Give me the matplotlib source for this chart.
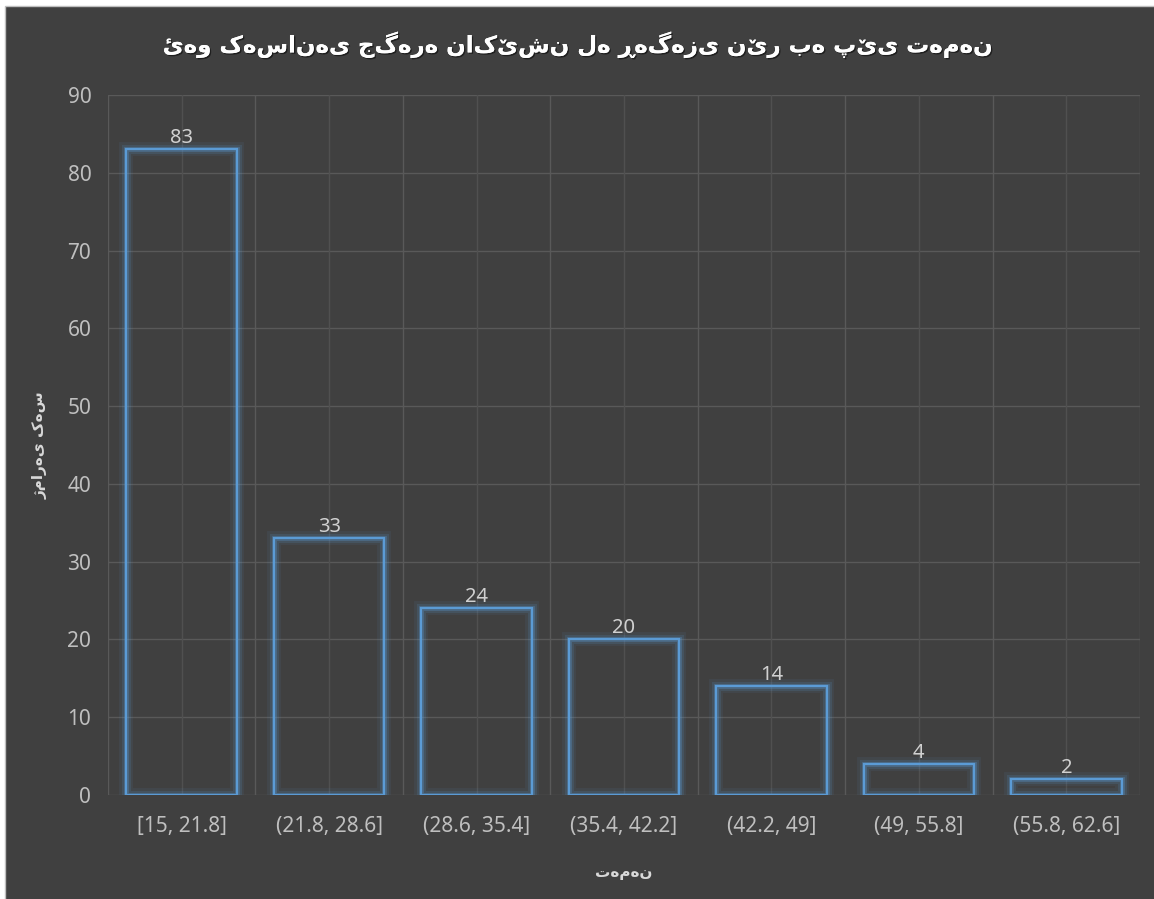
import matplotlib
matplotlib.use("Agg")
import matplotlib.pyplot as plt
import matplotlib.patheffects as pe
from matplotlib.patches import Rectangle
import numpy as np

categories = ["[15, 21.8]", "(21.8, 28.6]", "(28.6, 35.4]", "(35.4, 42.2]",
              "(42.2, 49]", "(49, 55.8]", "(55.8, 62.6]"]
counts = [83, 33, 24, 20, 14, 4, 2]
y_ticks = [0, 10, 20, 30, 40, 50, 60, 70, 80, 90]
title_text = "ئەو کەسانەی جگەرە ناکێشن لە ڕەگەزی نێر بە پێی تەمەن"
ylabel_text = "ژمارەی کەس"
xlabel_text = "تەمەن"

BG = "#404040"
BLUE = "#5B9BD5"
GRID = "#595959"
TICK = "#BFBFBF"

plt.rcParams['font.family'] = ['Noto Sans', 'DejaVu Sans']

fig = plt.figure(figsize=(11.54, 8.99), dpi=100)
fig.patch.set_facecolor("white")
# chart area background with thin light border
fig.add_artist(Rectangle((5 / 1154, -0.01), 1 - 5 / 1154 + 0.01, 1 - 6 / 899 + 0.01,
                         transform=fig.transFigure, facecolor=BG,
                         edgecolor="#BFBFBF", linewidth=1.0, zorder=0))

ax = fig.add_axes([108 / 1154, 1 - 795 / 899, (1140 - 108) / 1154, (795 - 95) / 899])
ax.set_facecolor(BG)
ax.patch.set_alpha(0)
n = len(categories)
x = np.arange(n)

ax.set_xlim(-0.5, n - 0.5)
ax.set_ylim(0, 90)
ax.set_yticks(y_ticks)

# grid: horizontal major, vertical at boundaries and centers
for yv in y_ticks:
    ax.axhline(yv, color=GRID, linewidth=1.0, zorder=1)
for xv in np.arange(-0.5, n, 1.0):
    ax.axvline(xv, color=GRID, linewidth=1.0, zorder=1)
for xv in x:
    ax.axvline(xv, color="#505050", linewidth=1.0, zorder=1)

glow = [pe.Stroke(linewidth=10, foreground=BLUE, alpha=0.08),
        pe.Stroke(linewidth=6.5, foreground=BLUE, alpha=0.15),
        pe.Stroke(linewidth=3.5, foreground=BLUE, alpha=0.3),
        pe.Normal()]
bars = ax.bar(x, counts, width=0.75, facecolor="none", edgecolor=BLUE,
              linewidth=1.6, zorder=3)
for b in bars:
    b.set_path_effects(glow)

for xi, v in zip(x, counts):
    ax.annotate(str(v), (xi, v), xytext=(0, 1), textcoords="offset points",
                ha="center", va="bottom", fontsize=14.5, color="#D0D0D0", zorder=4)

ax.set_xticks(x)
ax.set_xticklabels(categories)
ax.tick_params(axis="both", length=0, colors=TICK, labelsize=15)
ax.tick_params(axis="x", pad=15)
ax.tick_params(axis="y", pad=12)
for s in ax.spines.values():
    s.set_visible(False)

fig.text(0.5, 1 - 45 / 899, title_text, ha="center", va="center",
         fontsize=16.5, fontweight="bold", color="white", family="DejaVu Sans",
         path_effects=[pe.withSimplePatchShadow(offset=(1, -1), shadow_rgbFace="black", alpha=0.5),
                       pe.Normal()])
fig.text(40 / 1154, 1 - 445 / 899, ylabel_text, ha="center", va="center",
         rotation=90, fontsize=11, fontweight="bold", color="#D9D9D9", family="DejaVu Sans")
fig.text(624 / 1154, 1 - 872 / 899, xlabel_text, ha="center", va="center",
         fontsize=11, fontweight="bold", color="#D9D9D9", family="DejaVu Sans")

fig.savefig("out.png", dpi=100, facecolor=fig.get_facecolor())
